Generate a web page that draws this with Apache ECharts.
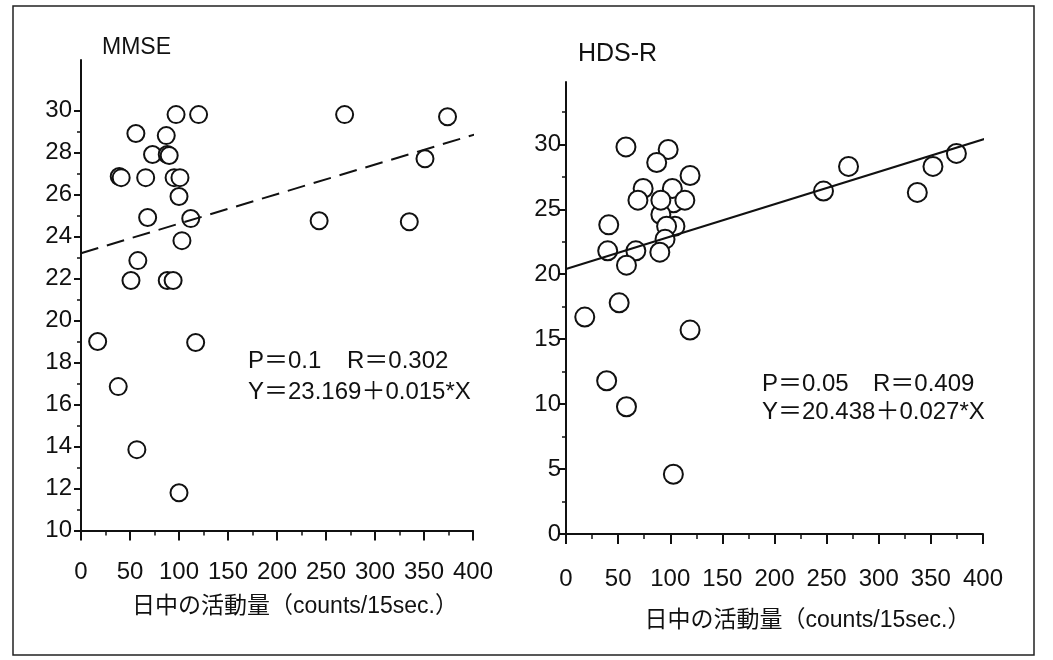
<!DOCTYPE html>
<html><head><meta charset="utf-8">
<script src="https://cdn.jsdelivr.net/npm/echarts@6/dist/echarts.min.js"></script>
<style>html,body{margin:0;padding:0;background:#fff}#c{width:1053px;height:660px}</style>
</head><body><div id="c"></div>
<script>
// ---- data ----
const mmseX = [97, 120, 269, 374, 56, 87, 73, 88, 90, 351, 39, 41, 66, 95, 101, 100, 68, 112, 243, 335, 103, 58, 51, 88, 94, 17, 117, 38, 57, 100];
const mmseY = [29.8, 29.8, 29.8, 29.7, 28.9, 28.8, 27.9, 27.9, 27.85, 27.7, 26.85, 26.8, 26.8, 26.8, 26.8, 25.9, 24.9, 24.85, 24.75, 24.7, 23.8, 22.85, 21.9, 21.9, 21.9, 19.0, 18.95, 16.85, 13.85, 11.8];
const hdsX = [103, 91, 57.5, 98, 87, 119, 74, 102, 69, 91, 114, 104.5, 96.5, 95, 41, 40, 67, 90, 58, 51, 18, 119, 247, 271, 337, 352, 374.5, 39, 58, 103];
const hdsY = [25.5, 24.6, 29.8, 29.6, 28.6, 27.6, 26.6, 26.6, 25.7, 25.7, 25.7, 23.7, 23.7, 22.7, 23.8, 21.8, 21.8, 21.7, 20.7, 17.8, 16.7, 15.7, 26.4, 28.3, 26.3, 28.3, 29.3, 11.8, 9.8, 4.6];
const mmseFitX = [0, 405];
const mmseFitY = [23.2, 28.9];
const hdsFitX = [0, 405];
const hdsFitY = [20.4, 30.5];
const xTicks = [0, 50, 100, 150, 200, 250, 300, 350, 400];
const mmseTicks = [10, 12, 14, 16, 18, 20, 22, 24, 26, 28, 30];
const mmseMinorTicks = [11, 13, 15, 17, 19, 21, 23, 25, 27, 29];
const hdsTicks = [0, 5, 10, 15, 20, 25, 30];
const hdsMinorTicks = [2.5, 7.5, 12.5, 17.5, 22.5, 27.5, 32.5];
const titles = ['MMSE', 'HDS-R'];
const xName = '日中の活動量（counts/15sec.）';
const mmseStats = ['P＝0.1', 'R＝0.302', 'Y＝23.169＋0.015*X'];
const hdsStats = ['P＝0.05', 'R＝0.409', 'Y＝20.438＋0.027*X'];

const FONT = '"Liberation Sans", Arial, "Noto Sans CJK JP", sans-serif';
const INK = '#111';
const pairs = (xs, ys) => xs.map((x, i) => [x, ys[i]]);

function xAxis(grid, margin, nameGap, shift) {
  return {
    type: 'value', gridIndex: grid, min: 0, max: 400, interval: 50,
    axisLine: { lineStyle: { color: INK, width: 2 } },
    axisTick: { length: 10, lineStyle: { color: INK, width: 2 }, customValues: xTicks },
    minorTick: { show: true, splitNumber: 2, length: 5, lineStyle: { color: INK, width: 1.5 } },
    splitLine: { show: false },
    axisLabel: { customValues: xTicks, margin: margin, color: INK, fontSize: 24, fontFamily: FONT },
    name: xName, nameLocation: 'middle', nameGap: nameGap,
    nameTextStyle: { color: INK, fontSize: 23, fontFamily: FONT, padding: [0, 0, 0, shift] }
  };
}
function yAxis(grid, min, max, ticks, margin) {
  return {
    type: 'value', gridIndex: grid, min: min, max: max, position: 'left',
    axisLine: { show: true, lineStyle: { color: INK, width: 2 } },
    axisTick: { show: true, length: 7, lineStyle: { color: INK, width: 2 }, customValues: ticks },
    splitLine: { show: false },
    axisLabel: { customValues: ticks, margin: margin, color: INK, fontSize: 24, fontFamily: FONT }
  };
}
function yMinor(grid, min, max, ticks) {
  return {
    type: 'value', gridIndex: grid, min: min, max: max, position: 'left',
    axisLine: { show: false },
    axisTick: { show: true, length: 4, lineStyle: { color: INK, width: 1.5 }, customValues: ticks },
    splitLine: { show: false },
    axisLabel: { show: false }
  };
}
function statText(x, y, s) {
  return { type: 'text', left: x, top: y, style: { text: s, fill: INK, font: '24px ' + FONT } };
}

const chart = echarts.init(document.getElementById('c'), null, { renderer: 'canvas' });
chart.setOption({
  animation: false,
  backgroundColor: '#fff',
  title: [
    { text: titles[0], left: 102, top: 36, padding: 0, textStyle: { fontSize: 23, fontWeight: 'normal', color: INK, fontFamily: FONT } },
    { text: titles[1], left: 578, top: 42, padding: 0, textStyle: { fontSize: 25, fontWeight: 'normal', color: INK, fontFamily: FONT } }
  ],
  grid: [
    { left: 81, right: 580, top: 60, bottom: 129.5 },
    { left: 566, right: 70, top: 82, bottom: 126 }
  ],
  xAxis: [xAxis(0, 30, 65, 36), xAxis(1, 33, 75, 66)],
  yAxis: [
    yAxis(0, 10, 32.4, mmseTicks, 9),
    yMinor(0, 10, 32.4, mmseMinorTicks),
    yAxis(1, 0, 34.8, hdsTicks, 5),
    yMinor(1, 0, 34.8, hdsMinorTicks)
  ],
  graphic: [
    { type: 'rect', shape: { x: 13, y: 6, width: 1021, height: 649 }, style: { fill: 'none', stroke: '#222', lineWidth: 1.5 } },
    statText(248, 349, mmseStats[0]),
    statText(347, 349, mmseStats[1]),
    statText(248, 380, mmseStats[2]),
    statText(762, 372, hdsStats[0]),
    statText(873, 372, hdsStats[1]),
    statText(762, 400, hdsStats[2])
  ],
  series: [
    { type: 'line', xAxisIndex: 0, yAxisIndex: 0, data: pairs(mmseFitX, mmseFitY), symbol: 'none', clip: false,
      lineStyle: { color: INK, width: 2, type: [18, 9] }, silent: true },
    { type: 'scatter', xAxisIndex: 0, yAxisIndex: 0, data: pairs(mmseX, mmseY), symbol: 'circle', symbolSize: 17,
      itemStyle: { color: '#fff', borderColor: INK, borderWidth: 2, opacity: 1 } },
    { type: 'line', xAxisIndex: 1, yAxisIndex: 2, data: pairs(hdsFitX, hdsFitY), symbol: 'none', clip: false,
      lineStyle: { color: INK, width: 2 }, silent: true },
    { type: 'scatter', xAxisIndex: 1, yAxisIndex: 2, data: pairs(hdsX, hdsY), symbol: 'circle', symbolSize: 19,
      itemStyle: { color: '#fff', borderColor: INK, borderWidth: 2, opacity: 1 } }
  ]
});
</script></body></html>
